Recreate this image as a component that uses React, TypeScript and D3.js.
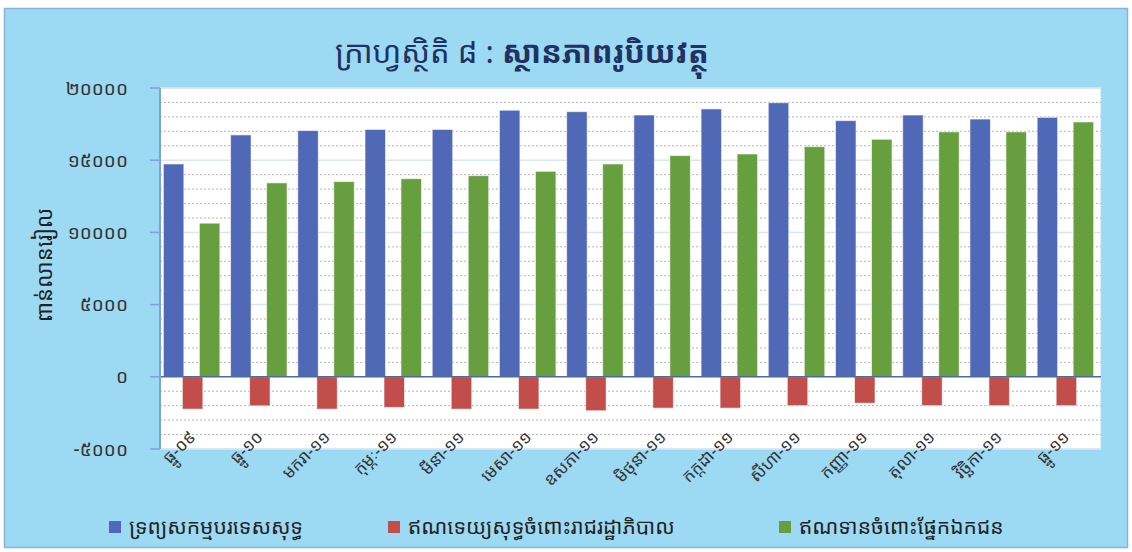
import React from 'react';
import * as d3 from 'd3';

const categories = [
  'ធ្នូ-០៩', 'ធ្នូ-១០', 'មករា-១១', 'កុម្ភៈ-១១', 'មីនា-១១', 'មេសា-១១', 'ឧសភា-១១',
  'មិថុនា-១១', 'កក្កដា-១១', 'សីហា-១១', 'កញ្ញា-១១', 'តុលា-១១', 'វិច្ឆិកា-១១', 'ធ្នូ-១១',
];
const netForeignAssets = [14740, 16750, 17050, 17130, 17130, 18460, 18360, 18130, 18550, 18980, 17740, 18130, 17850, 17970];
const claimsOnGovernment = [-2240, -2010, -2240, -2120, -2240, -2240, -2350, -2170, -2170, -2000, -1830, -2000, -2000, -2000];
const privateCredit = [10640, 13430, 13520, 13720, 13930, 14230, 14740, 15320, 15430, 15940, 16450, 16960, 16960, 17650];
const yTicks = [-5000, 0, 5000, 10000, 15000, 20000];
const seriesNames = ['ទ្រព្យសកម្មបរទេសសុទ្ធ', 'ឥណទេយ្យសុទ្ធចំពោះរាជរដ្ឋាភិបាល', 'ឥណទានចំពោះផ្នែកឯកជន'];
const titleLight = 'ក្រាហ្វស្ថិតិ ៨ : ';
const titleBold = 'ស្ថានភាពរូបិយវត្ថុ';
const yTitle = 'ពាន់លានរៀល';

const khmerDigits = '០១២៣៤៥៦៧៨៩';
const toKhmer = (n: number) => String(n).replace(/\d/g, (d) => khmerDigits[+d]);

const W = 1132;
const H = 552;
const FONT = '"Noto Sans Khmer", "Khmer OS", "Khmer OS System", "DejaVu Sans", sans-serif';
const colors = ['#5069B6', '#C24E4C', '#679E3E'];

export default function App() {
  const plot = { left: 160, right: 1101, top: 88, bottom: 449 };

  const x = d3.scaleBand<string>().domain(categories).range([plot.left, plot.right]);
  const y = d3.scaleLinear().domain([-5000, 20000]).range([plot.bottom, plot.top]);

  const minor = d3.range(-5000, 20001, 1000).filter((v) => v % 5000 !== 0);
  const series = [netForeignAssets, claimsOnGovernment, privateCredit];
  const offsets = [-20, -1, 16];
  const barW = 20.5;

  return (
    <svg width={W} height={H} style={{ position: 'absolute', left: 0, top: 0 }} fontFamily={FONT}>
      <rect x={0} y={0} width={W} height={H} fill="#ffffff" />
      <rect x={4.5} y={8.5} width={1123} height={539} fill="#9CDAF4" stroke="#86B3DF" strokeWidth={1.5} />

      {/* title */}
      <text x={522} y={63} textAnchor="middle" fontSize={31} fill="#1F3262">
        <tspan>{titleLight}</tspan>
        <tspan fontWeight="bold">{titleBold}</tspan>
      </text>

      {/* plot area */}
      <rect x={plot.left} y={plot.top} width={plot.right - plot.left} height={plot.bottom - plot.top} fill="#ffffff" stroke="#B8D8F0" strokeWidth={1} />

      {minor.map((v) => (
        <line key={'m' + v} x1={plot.left} x2={plot.right} y1={y(v)} y2={y(v)} stroke="#B5B5B5" strokeWidth={1} strokeDasharray="2,2" />
      ))}
      {yTicks.filter((v) => v !== 0).map((v) => (
        <line key={'g' + v} x1={plot.left} x2={plot.right} y1={y(v)} y2={y(v)} stroke="#DCE6F2" strokeWidth={1.5} />
      ))}

      {/* bars */}
      {series.map((vals, si) =>
        vals.map((v, i) => {
          const cx = (x(categories[i]) as number) + x.bandwidth() / 2 + offsets[si];
          const y0 = y(Math.max(0, v));
          const y1 = y(Math.min(0, v));
          return (
            <rect key={si + '-' + i} x={cx - barW / 2} y={y0} width={barW} height={y1 - y0}
              fill={colors[si]} stroke="#ffffff" strokeOpacity={0.6} strokeWidth={1} />
          );
        })
      )}

      {/* zero line */}
      <line x1={plot.left} x2={plot.right} y1={y(0)} y2={y(0)} stroke="#4A6C9B" strokeWidth={1.5} />

      {/* left axis */}
      <line x1={plot.left} x2={plot.left} y1={plot.top} y2={plot.bottom} stroke="#7BA3D6" strokeWidth={2} />
      {yTicks.map((v) => (
        <g key={'t' + v}>
          <line x1={plot.left - 10} x2={plot.left} y1={y(v)} y2={y(v)} stroke="#7BA3D6" strokeWidth={1.5} />
          <text x={128} y={y(v)} dy="0.35em" textAnchor="end" fontSize={19} fill="#333333">{toKhmer(v)}</text>
        </g>
      ))}

      <text transform={`translate(52,265) rotate(-90)`} textAnchor="middle" fontSize={22} fill="#222222">{yTitle}</text>

      {/* category labels */}
      {categories.map((c) => {
        const cx = (x(c) as number) + x.bandwidth() / 2 + 3;
        return (
          <text key={c} transform={`translate(${cx},438) rotate(-45)`} textAnchor="end" fontSize={17} fill="#333333">{c}</text>
        );
      })}

      {/* legend */}
      {seriesNames.map((n, i) => {
        const lx = [109, 388, 779][i];
        return (
          <g key={n}>
            <rect x={lx} y={521} width={12} height={12} fill={colors[i]} />
            <text x={lx + 20} y={527} dy="0.35em" fontSize={21} fill="#222222">{n}</text>
          </g>
        );
      })}
    </svg>
  );
}
